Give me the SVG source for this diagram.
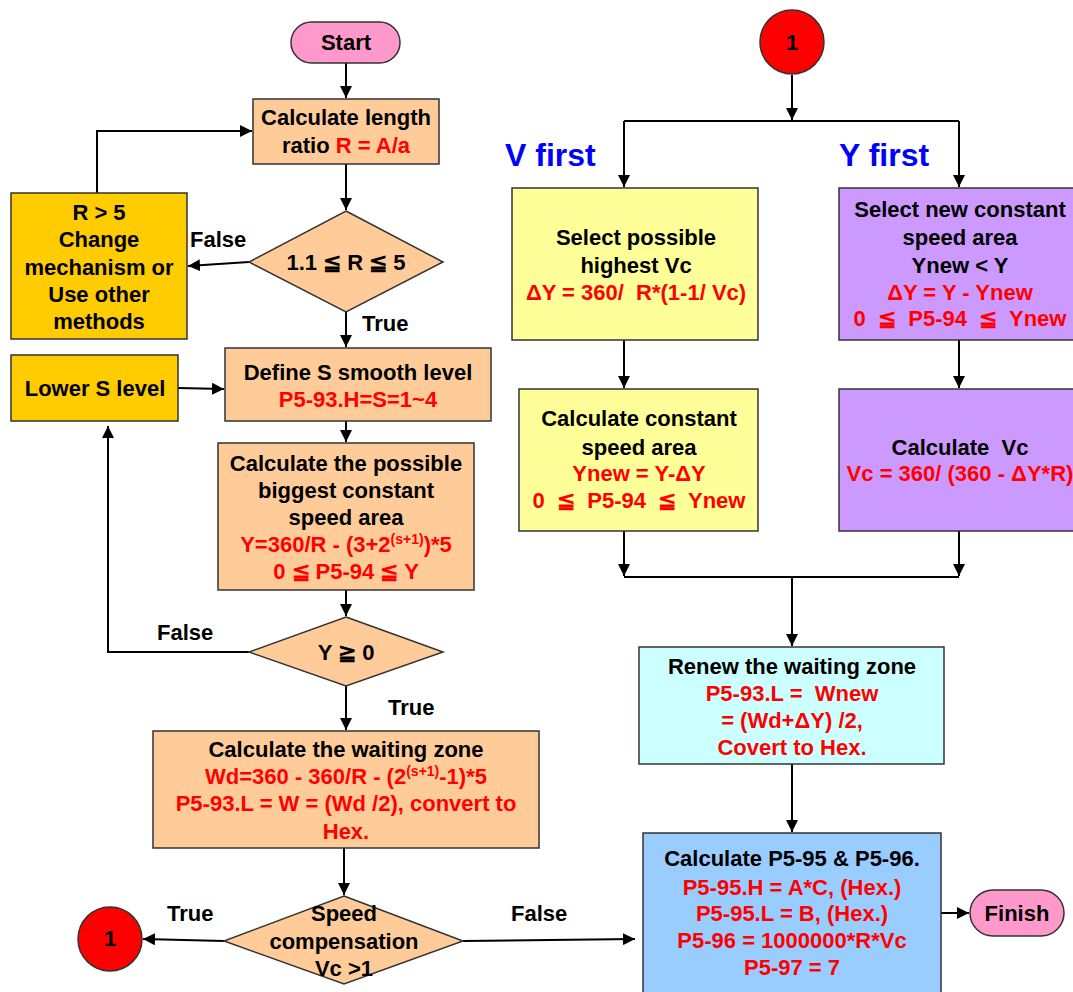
<svg xmlns="http://www.w3.org/2000/svg" width="1073" height="992" viewBox="0 0 1073 992">
<style>
text{font-family:"Liberation Sans",Arial,sans-serif;font-weight:bold;font-size:22px;fill:#000;white-space:pre}
.c{text-anchor:middle}
.r{fill:#FF0000}
.b{fill:#0000FF;font-size:32px}
.sup{font-size:14px}
.box{stroke:#333;stroke-width:1.5}
.peach{fill:#FFCC99}
.gold{fill:#FFCC00}
.yel{fill:#FFFF99}
.pur{fill:#CC99FF}
.cyan{fill:#CCFFFF}
.blue{fill:#99CCFF}
.pink{fill:#FF99CC}
.red{fill:#FF0000}
.conn{fill:none;stroke:#000;stroke-width:2}
</style>
<defs>
<marker id="ah" markerUnits="userSpaceOnUse" markerWidth="14" markerHeight="12" refX="12" refY="6" orient="auto">
<path d="M0,0 L12,6 L0,12 Z" fill="#000"/>
</marker>
</defs>
<rect width="1073" height="992" fill="#fff"/>

<g id="connectors">
<line class="conn" x1="346" y1="63" x2="346" y2="98" marker-end="url(#ah)"/>
<line class="conn" x1="346" y1="164" x2="346" y2="210" marker-end="url(#ah)"/>
<line class="conn" x1="249" y1="262" x2="188" y2="266" marker-end="url(#ah)"/>
<polyline class="conn" points="97,201 97,131 252,131" marker-end="url(#ah)"/>
<line class="conn" x1="346" y1="312" x2="346" y2="347" marker-end="url(#ah)"/>
<line class="conn" x1="178" y1="388" x2="224" y2="389" marker-end="url(#ah)"/>
<line class="conn" x1="346" y1="421" x2="346" y2="442" marker-end="url(#ah)"/>
<line class="conn" x1="346" y1="590" x2="346" y2="616" marker-end="url(#ah)"/>
<polyline class="conn" points="249,652 108,652 108,426" marker-end="url(#ah)"/>
<line class="conn" x1="346" y1="686" x2="346" y2="730" marker-end="url(#ah)"/>
<line class="conn" x1="344" y1="848" x2="344" y2="895" marker-end="url(#ah)"/>
<line class="conn" x1="224" y1="941" x2="143" y2="939" marker-end="url(#ah)"/>
<line class="conn" x1="463" y1="941" x2="635" y2="939" marker-end="url(#ah)"/>
<line class="conn" x1="792" y1="75" x2="792" y2="120" marker-end="url(#ah)"/>
<line class="conn" x1="624" y1="121" x2="959" y2="121"/>
<line class="conn" x1="624" y1="121" x2="624" y2="187" marker-end="url(#ah)"/>
<line class="conn" x1="959" y1="121" x2="959" y2="187" marker-end="url(#ah)"/>
<line class="conn" x1="624" y1="340" x2="624" y2="388" marker-end="url(#ah)"/>
<line class="conn" x1="959" y1="340" x2="959" y2="388" marker-end="url(#ah)"/>
<line class="conn" x1="624" y1="531" x2="624" y2="576" marker-end="url(#ah)"/>
<line class="conn" x1="959" y1="531" x2="959" y2="576" marker-end="url(#ah)"/>
<line class="conn" x1="624" y1="577" x2="959" y2="577"/>
<line class="conn" x1="792" y1="577" x2="792" y2="646" marker-end="url(#ah)"/>
<line class="conn" x1="792" y1="764" x2="792" y2="832" marker-end="url(#ah)"/>
<line class="conn" x1="941" y1="913" x2="969" y2="913" marker-end="url(#ah)"/>
<text x="190" y="247">False</text>
<text x="362" y="331">True</text>
<text x="157" y="640">False</text>
<text x="388" y="715">True</text>
<text x="167" y="921">True</text>
<text x="511" y="921">False</text>
<text class="b" x="505" y="166">V first</text>
<text class="b" x="839" y="166">Y first</text>
</g>

<g id="start">
<rect class="box pink" x="291" y="22" width="109" height="41" rx="20.5"/>
<text class="c" x="346" y="50">Start</text>
</g>

<g id="calc-ratio">
<rect class="box peach" x="253" y="99" width="186" height="65"/>
<text class="c" x="346" y="125">Calculate length</text>
<text class="c" x="346" y="153">ratio <tspan class="r">R = A/a</tspan></text>
</g>

<g id="check-ratio">
<polygon class="box peach" points="346,211 443,262 346,312 249,262"/>
<text class="c" x="346" y="270">1.1 ≦ R ≦ 5</text>
</g>

<g id="change-mech">
<rect class="box gold" x="11" y="193" width="176" height="146"/>
<text class="c" x="99" y="220">R &gt; 5</text>
<text class="c" x="99" y="247">Change</text>
<text class="c" x="99" y="275">mechanism or</text>
<text class="c" x="99" y="302">Use other</text>
<text class="c" x="99" y="329">methods</text>
</g>

<g id="define-s">
<rect class="box peach" x="225" y="348" width="266" height="73"/>
<text class="c" x="358" y="380">Define S smooth level</text>
<text class="c r" x="358" y="407">P5-93.H=S=1~4</text>
</g>

<g id="lower-s">
<rect class="box gold" x="11" y="355" width="167" height="66"/>
<text class="c" x="95" y="396">Lower S level</text>
</g>

<g id="calc-possible">
<rect class="box peach" x="218" y="443" width="256" height="147"/>
<text class="c" x="346" y="471">Calculate the possible</text>
<text class="c" x="346" y="498">biggest constant</text>
<text class="c" x="346" y="525">speed area</text>
<text class="c r" x="346" y="552">Y=360/R - (3+2<tspan class="sup" dy="-8">(s+1)</tspan><tspan dy="8">)*5</tspan></text>
<text class="c r" x="346" y="579">0 ≦ P5-94 ≦ Y</text>
</g>

<g id="check-y">
<polygon class="box peach" points="346,617 443,652 346,686 249,652"/>
<text class="c" x="346" y="660">Y ≧ 0</text>
</g>

<g id="waiting-zone">
<rect class="box peach" x="153" y="731" width="386" height="117"/>
<text class="c" x="346" y="757">Calculate the waiting zone</text>
<text class="c r" x="346" y="784">Wd=360 - 360/R - (2<tspan class="sup" dy="-8">(s+1)</tspan><tspan dy="8">-1)*5</tspan></text>
<text class="c r" x="346" y="811">P5-93.L = W = (Wd /2), convert to</text>
<text class="c r" x="346" y="839">Hex.</text>
</g>

<g id="speed-comp">
<polygon class="box peach" points="344,896 463,941 344,984 224,941"/>
<text class="c" x="344" y="921">Speed</text>
<text class="c" x="344" y="949">compensation</text>
<text class="c" x="344" y="976">Vc &gt;1</text>
</g>

<g id="connector-1-out">
<circle class="box red" cx="110" cy="939" r="32"/>
<text class="c" x="110" y="946">1</text>
</g>

<g id="connector-1-in">
<circle class="box red" cx="792" cy="42" r="32"/>
<text class="c" x="792" y="50">1</text>
</g>

<g id="select-vc">
<rect class="box yel" x="512" y="188" width="246" height="152"/>
<text class="c" x="636" y="245">Select possible</text>
<text class="c" x="636" y="273">highest Vc</text>
<text class="c r" x="636" y="300">ΔY = 360/  R*(1-1/ Vc)</text>
</g>

<g id="select-area">
<rect class="box pur" x="839" y="188" width="242" height="152"/>
<text class="c" x="960" y="217">Select new constant</text>
<text class="c" x="960" y="245">speed area</text>
<text class="c" x="960" y="273">Ynew &lt; Y</text>
<text class="c r" x="960" y="300">ΔY = Y - Ynew</text>
<text class="c r" x="960" y="326">0  ≦  P5-94  ≦  Ynew</text>
</g>

<g id="calc-area">
<rect class="box yel" x="519" y="389" width="239" height="142"/>
<text class="c" x="639" y="426">Calculate constant</text>
<text class="c" x="639" y="455">speed area</text>
<text class="c r" x="639" y="481">Ynew = Y-ΔY</text>
<text class="c r" x="639" y="508">0  ≦  P5-94  ≦  Ynew</text>
</g>

<g id="calc-vc">
<rect class="box pur" x="839" y="389" width="242" height="142"/>
<text class="c" x="960" y="455">Calculate  Vc</text>
<text class="c r" x="960" y="481">Vc = 360/ (360 - ΔY*R)</text>
</g>

<g id="renew">
<rect class="box cyan" x="639" y="647" width="305" height="117"/>
<text class="c" x="792" y="674">Renew the waiting zone</text>
<text class="c r" x="792" y="701">P5-93.L =  Wnew</text>
<text class="c r" x="792" y="728">= (Wd+ΔY) /2,</text>
<text class="c r" x="792" y="755">Covert to Hex.</text>
</g>

<g id="calc-p595">
<rect class="box blue" x="643" y="833" width="298" height="170"/>
<text class="c" x="792" y="866">Calculate P5-95 &amp; P5-96.</text>
<text class="c r" x="792" y="895">P5-95.H = A*C, (Hex.)</text>
<text class="c r" x="792" y="921">P5-95.L = B, (Hex.)</text>
<text class="c r" x="792" y="948">P5-96 = 1000000*R*Vc</text>
<text class="c r" x="792" y="975">P5-97 = 7</text>
</g>

<g id="finish">
<rect class="box pink" x="970" y="890" width="94" height="46" rx="23"/>
<text class="c" x="1017" y="921">Finish</text>
</g>
</svg>
